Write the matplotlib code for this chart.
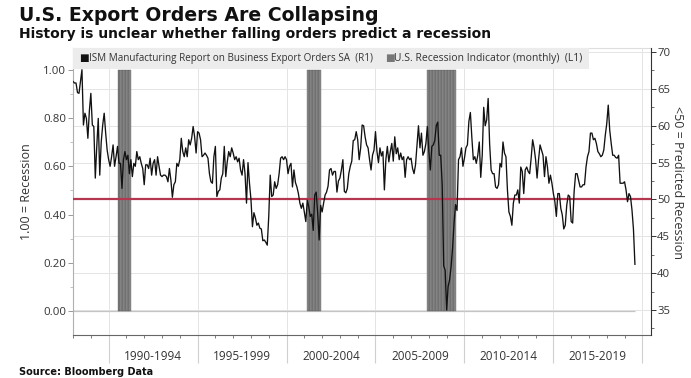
import matplotlib
matplotlib.use("Agg")
import matplotlib.pyplot as plt
import matplotlib.transforms as mtransforms
from matplotlib.patches import Rectangle
from matplotlib.ticker import MultipleLocator
from matplotlib import font_manager

# ---------------- data ----------------
start_year = 1988  # first observation: January 1988, monthly
export_orders = [
    # 1988
    66.0, 65.8, 65.8, 64.5, 64.4, 66.0, 67.6, 60.1, 61.7, 61.0, 58.3, 62.0,
    # 1989
    64.4, 60.1, 59.9, 52.9, 57.2, 61.0, 53.3, 57.8, 60.1, 61.7, 59.0, 56.7,
    # 1990
    55.4, 54.5, 55.8, 57.4, 54.5, 55.8, 57.2, 54.9, 54.9, 51.5, 55.4, 56.5,
    # 1991
    55.4, 56.0, 53.5, 55.4, 53.1, 54.9, 54.5, 56.5, 55.4, 55.8, 54.9, 54.2,
    # 1992
    52.0, 54.7, 54.7, 54.2, 55.6, 53.3, 54.9, 55.4, 53.3, 55.8, 54.5, 53.3,
    # 1993
    53.1, 53.3, 53.3, 53.1, 52.4, 54.2, 52.6, 50.3, 52.0, 52.4, 54.9, 54.5,
    # 1994
    55.4, 58.3, 56.5, 55.8, 57.0, 55.8, 58.1, 57.4, 58.3, 59.9, 58.5, 56.3,
    # 1995
    59.2, 59.0, 58.1, 55.8, 56.0, 56.3, 56.0, 55.6, 53.5, 52.4, 52.2, 55.8,
    # 1996
    57.2, 50.4, 51.1, 51.3, 52.9, 53.5, 57.2, 53.1, 55.1, 56.5, 55.8, 57.0,
    # 1997
    56.3, 55.4, 55.8, 55.1, 55.6, 54.0, 53.3, 55.4, 53.5, 49.5, 55.0, 52.2,
    # 1998
    50.0, 46.3, 48.2, 47.5, 46.5, 46.8, 46.1, 46.0, 44.4, 44.5, 44.2, 43.8,
    # 1999
    47.7, 53.3, 50.4, 50.6, 52.4, 51.5, 52.0, 53.5, 55.6, 55.8, 55.4, 55.8,
    # 2000
    55.4, 53.5, 54.5, 54.9, 51.7, 54.0, 52.3, 51.7, 50.8, 49.5, 48.8, 49.5,
    # 2001
    48.3, 47.0, 49.9, 49.0, 47.7, 48.0, 45.8, 50.6, 51.0, 48.1, 44.5, 49.2,
    # 2002
    48.3, 49.5, 50.6, 51.0, 51.8, 54.0, 54.2, 53.3, 53.8, 53.8, 51.0, 52.5,
    # 2003
    52.9, 54.0, 55.4, 51.1, 50.9, 51.5, 53.5, 54.5, 55.2, 58.0, 58.1, 59.2,
    # 2004
    58.1, 55.4, 57.0, 60.1, 60.0, 58.5, 57.4, 57.0, 55.4, 54.0, 56.0, 56.7,
    # 2005
    59.2, 56.5, 55.0, 57.0, 55.9, 56.5, 51.3, 55.4, 57.2, 55.1, 56.5, 57.6,
    # 2006
    55.2, 58.5, 56.2, 57.0, 55.4, 56.3, 55.4, 55.8, 53.0, 55.4, 55.8, 55.4,
    # 2007
    55.6, 54.2, 53.5, 54.7, 57.4, 60.0, 57.0, 59.0, 56.0, 56.5, 57.6, 59.9,
    # 2008
    56.5, 54.0, 57.2, 57.4, 58.0, 60.0, 60.5, 56.0, 56.0, 52.0, 41.0, 40.4,
    # 2009
    35.0, 38.2, 39.1, 40.9, 43.4, 46.8, 49.3, 48.5, 55.4, 55.8, 57.0, 54.5,
    # 2010
    55.6, 57.0, 57.4, 60.6, 61.8, 58.4, 55.4, 55.8, 54.9, 56.0, 57.8, 53.0,
    # 2011
    56.0, 62.5, 60.0, 60.8, 63.7, 57.5, 54.0, 53.5, 53.5, 51.7, 51.5, 52.0,
    # 2012
    54.9, 54.4, 57.8, 56.3, 55.8, 51.3, 48.3, 47.7, 46.5, 49.5, 50.6, 50.6,
    # 2013
    51.3, 49.5, 54.4, 53.8, 50.8, 54.0, 54.4, 53.8, 53.5, 55.6, 58.1, 57.0,
    # 2014
    55.4, 52.9, 55.4, 57.4, 56.7, 56.0, 53.1, 55.8, 54.4, 52.2, 53.3, 52.2,
    # 2015
    50.8, 49.7, 47.7, 50.8, 50.8, 48.8, 47.9, 46.0, 46.5, 49.2, 50.6, 50.4,
    # 2016
    47.0, 46.8, 51.1, 53.5, 53.5, 52.6, 51.7, 51.7, 52.0, 52.0, 54.4, 55.8,
    # 2017
    56.5, 59.0, 59.0, 58.1, 58.3, 57.6, 56.5, 56.2, 55.8, 56.0, 56.7, 58.7,
    # 2018
    60.3, 62.8, 59.4, 57.6, 56.0, 56.0, 55.7, 55.6, 56.0, 52.2, 52.2, 52.2,
    # 2019
    52.4, 51.3, 49.7, 50.8, 50.4, 48.6, 46.0, 41.2,
]
recession_periods = [("1990-07", "1991-03"), ("2001-03", "2001-11"), ("2007-12", "2009-06")]
period_starts = [1990, 1995, 2000, 2005, 2010, 2015, 2020]
period_labels = ["1990-1994", "1995-1999", "2000-2004", "2005-2009", "2010-2014", "2015-2019"]
left_ticks = [0.00, 0.20, 0.40, 0.60, 0.80, 1.00]
right_ticks = [35, 40, 45, 50, 55, 60, 65, 70]
threshold = 50

title = "U.S. Export Orders Are Collapsing"
subtitle = "History is unclear whether falling orders predict a recession"
source = "Source: Bloomberg Data"
legend_labels = ["ISM Manufacturing Report on Business Export Orders SA  (R1)",
                 "U.S. Recession Indicator (monthly)  (L1)"]
left_label = "1.00 = Recession"
right_label = "<50 = Predicted Recession"

# ---------------- derived series ----------------
months = [start_year + i / 12 for i in range(len(export_orders))]


def month_index(s):
    y, m = s.split("-")
    return (int(y) - start_year) * 12 + int(m) - 1


recession = [0] * len(export_orders)
for a, b in recession_periods:
    for i in range(month_index(a), month_index(b) + 1):
        recession[i] = 1

# ---------------- fonts ----------------
names = {f.name for f in font_manager.fontManager.ttflist}
ui_font = "Open Sans" if "Open Sans" in names else "DejaVu Sans"
plt.rcParams["font.family"] = [ui_font, "DejaVu Sans"]

# ---------------- figure ----------------
W, H = 691, 378
fig = plt.figure(figsize=(W / 100, H / 100), dpi=100)


def fx(px):
    return px / W


def fy(py):
    return 1 - py / H


ax = fig.add_axes([fx(72.7), fy(335), fx(650.7) - fx(72.7), fy(48) - fy(335)])
ax_r = ax.twinx()

ax.set_xlim(1987.98, 2020.47)
ax.set_ylim(-0.0996, 1.091)
ax_r.set_ylim(31.61, 70.55)

grid_c = "#e4e4e4"
ax.set_xticks(period_starts)
ax.set_xticklabels([])
ax.grid(axis="x", which="major", color=grid_c, lw=0.7)
ax.set_axisbelow(True)
blend_r = mtransforms.blended_transform_factory(ax.transAxes, ax_r.transData)
for t in right_ticks:
    ax.plot([0, 1], [t, t], transform=blend_r, color=grid_c, lw=0.7, zorder=0.5)

ax.hlines(0, months[0], months[-1], color="#c4c4c4", lw=0.9, zorder=1)

rec_x = [m for m, r in zip(months, recession) if r > 0]
rec_h = [r for r in recession if r > 0]
ax.bar(rec_x, rec_h, width=1 / 12, align="edge", color="#8e8e8e",
       edgecolor="#4a4a4a", linewidth=0.22, zorder=2)

ax_r.axhline(threshold, color="#b5374f", lw=1.6, zorder=2)
ax_r.plot(months, export_orders, color="#111111", lw=0.95, zorder=3)

# ---------------- axes styling ----------------
ax.set_yticks(left_ticks)
ax.set_yticklabels([f"{v:.2f}" for v in left_ticks])
ax.yaxis.set_minor_locator(MultipleLocator(0.1))
ax.tick_params(axis="y", which="major", direction="out", length=3.5, width=0.6,
               color="#888888", labelsize=8.2, labelcolor="#333333", pad=1.2)
ax.tick_params(axis="y", which="minor", direction="out", length=2, width=0.5, color="#aaaaaa")

ax_r.set_yticks(right_ticks)
ax_r.yaxis.set_minor_locator(MultipleLocator(2.5))
ax_r.tick_params(axis="y", which="major", direction="out", length=3.5, width=0.7,
                 color="#333333", labelsize=8.2, labelcolor="#333333", pad=1.2)
ax_r.tick_params(axis="y", which="minor", direction="out", length=2, width=0.6, color="#555555")

ax.xaxis.set_minor_locator(MultipleLocator(1))
ax.tick_params(axis="x", which="major", direction="out", length=20.2, width=0.8, color="#cfcfcf")
ax.tick_params(axis="x", which="minor", direction="out", length=2.5, width=0.6, color="#666666")

ax.spines["left"].set_color("#b0b0b0")
ax.spines["bottom"].set_color("#666666")
ax.spines["top"].set_color("#dddddd")
ax.spines["right"].set_visible(False)
for s in ("left", "top", "bottom"):
    ax_r.spines[s].set_visible(False)
ax_r.spines["right"].set_color("#333333")

blend_xf = mtransforms.blended_transform_factory(ax.transData, fig.transFigure)
for s, lab in zip(period_starts[:-1], period_labels):
    ax.text(s + 2.5, fy(357), lab, transform=blend_xf, ha="center", va="center",
            fontsize=8.5, color="#333333")

fig.text(fx(27), fy(192), left_label, rotation=90, ha="center", va="center",
         fontsize=9, color="#333333")
fig.text(fx(677), fy(182), right_label, rotation=270, ha="center", va="center",
         fontsize=9, color="#333333")

renderer = fig.canvas.get_renderer()


def fit(t, target_px):
    w = t.get_window_extent(renderer=renderer).width
    t.set_fontsize(t.get_fontsize() * target_px / w)


t1 = fig.text(fx(19), fy(20.7), title, family="DejaVu Sans", fontweight="bold",
              fontsize=13.5, va="baseline", ha="left", color="#111111")
fit(t1, 359)
t2 = fig.text(fx(19), fy(38), subtitle, family="DejaVu Sans", fontweight="bold",
              fontsize=9, va="baseline", ha="left", color="#111111")
fit(t2, 471)
t3 = fig.text(fx(19), fy(375), source, family="DejaVu Sans", fontweight="bold",
              fontsize=7, va="baseline", ha="left", color="#111111")
fit(t3, 134)

# legend
fig.add_artist(Rectangle((fx(73), fy(69)), fx(589) - fx(73), fy(48) - fy(69),
                         transform=fig.transFigure, facecolor="#ececec",
                         edgecolor="none", zorder=5))
legend_y = fy(58.5)
fig.text(fx(79.5), legend_y, "\u25A0", family="DejaVu Sans", fontsize=7.4, color="#111111",
         ha="left", va="center", zorder=6)
l1 = fig.text(fx(88.5), legend_y, legend_labels[0], family=ui_font, fontsize=7,
              color="#333333", ha="left", va="center", zorder=6)
fit(l1, 285)
fig.text(fx(385), legend_y, "\u25A0", family="DejaVu Sans", fontsize=7.4, color="#777777",
         ha="left", va="center", zorder=6)
l2 = fig.text(fx(394), legend_y, legend_labels[1], family=ui_font, fontsize=7,
              color="#333333", ha="left", va="center", zorder=6)
fit(l2, 188)

fig.savefig("out.png", dpi=100)
